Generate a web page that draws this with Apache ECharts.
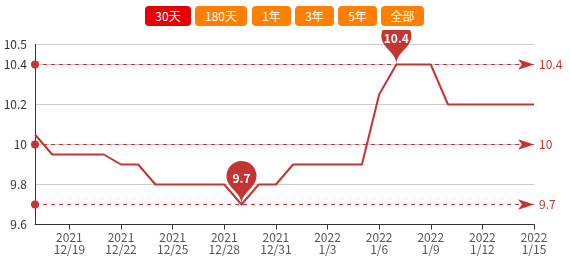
<!DOCTYPE html>
<html>
<head>
<meta charset="utf-8">
<script src="https://cdn.jsdelivr.net/npm/echarts@6/dist/echarts.min.js"></script>
<style>
html,body{margin:0;padding:0;background:#fff;width:570px;height:257px;overflow:hidden;font-family:"Noto Sans CJK SC",sans-serif;}
#btns{position:absolute;left:0;top:0;width:570px;height:30px;}
.b{position:absolute;top:6px;height:20px;line-height:20px;border-radius:4px;color:#fff;font-size:12px;text-align:center;background:#ff8000;}
.b.on{background:#e60000;}
#chart{position:absolute;left:0;top:30px;width:570px;height:227px;}
</style>
</head>
<body>
<div id="btns"></div>
<div id="chart"></div>
<script>
const buttonLabels = ['30天','180天','1年','3年','5年','全部'];
const categories = ['2021/12/17','2021/12/18','2021/12/19','2021/12/20','2021/12/21','2021/12/22','2021/12/23','2021/12/24','2021/12/25','2021/12/26','2021/12/27','2021/12/28','2021/12/29','2021/12/30','2021/12/31','2022/1/1','2022/1/2','2022/1/3','2022/1/4','2022/1/5','2022/1/6','2022/1/7','2022/1/8','2022/1/9','2022/1/10','2022/1/11','2022/1/12','2022/1/13','2022/1/14','2022/1/15'];
const values = [10.05,9.95,9.95,9.95,9.95,9.9,9.9,9.8,9.8,9.8,9.8,9.8,9.7,9.8,9.8,9.9,9.9,9.9,9.9,9.9,10.25,10.4,10.4,10.4,10.2,10.2,10.2,10.2,10.2,10.2];

const btnBox = [[145,46],[195,52],[252,39],[295,39],[338,39],[381,43]];
const bd = document.getElementById('btns');
buttonLabels.forEach((t,i)=>{
  const d=document.createElement('div');
  d.className='b'+(i===0?' on':'');
  d.style.left=btnBox[i][0]+'px'; d.style.width=btnBox[i][1]+'px';
  d.textContent=t; bd.appendChild(d);
});

const red = '#c23531';
const mlStyle = {color:red,type:[4,4],width:1,opacity:1};
const chart = echarts.init(document.getElementById('chart'));
const showIdx = (idx) => idx % 3 === 2;
chart.setOption({
  animation:false,
  textStyle:{fontFamily:'"Noto Sans CJK SC", sans-serif'},
  grid:{left:35,right:36,top:14.5,bottom:32.5},
  xAxis:{
    type:'category', boundaryGap:false, data:categories,
    axisLine:{lineStyle:{color:'#333'}},
    axisTick:{interval:showIdx, lineStyle:{color:'#333'}},
    axisLabel:{interval:showIdx, color:'#555', fontSize:12, lineHeight:12, margin:7,
      formatter:(v)=>{const p=v.split('/');return p[0]+'\n'+p[1]+'/'+p[2];}}
  },
  yAxis:{
    type:'value', min:9.6, max:10.5, interval:0.2,
    axisLine:{show:true,lineStyle:{color:'#333'}},
    axisTick:{show:false},
    axisLabel:{color:'#333',fontSize:12},
    splitLine:{lineStyle:{color:'#ccc'}}
  },
  series:[{
    type:'line', data:values, showSymbol:false, symbol:'none',
    lineStyle:{color:red,width:2}, itemStyle:{color:red},
    markPoint:{
      symbolSize:50,
      itemStyle:{color:red},
      label:{color:'#fff',fontSize:12,fontWeight:'bold'},
      data:[{type:'max'},{type:'min'}]
    },
    markLine:{
      itemStyle:{color:red},
      lineStyle:mlStyle,
      emphasis:{disabled:true},
      label:{color:red,fontSize:12,formatter:(p)=>String(+(+p.value).toFixed(2))},
      data:[
        {type:'max',lineStyle:mlStyle,itemStyle:{color:red}},
        {type:'average',lineStyle:mlStyle,itemStyle:{color:red}},
        {type:'min',lineStyle:mlStyle,itemStyle:{color:red}}
      ]
    }
  }]
});
</script>
</body>
</html>
